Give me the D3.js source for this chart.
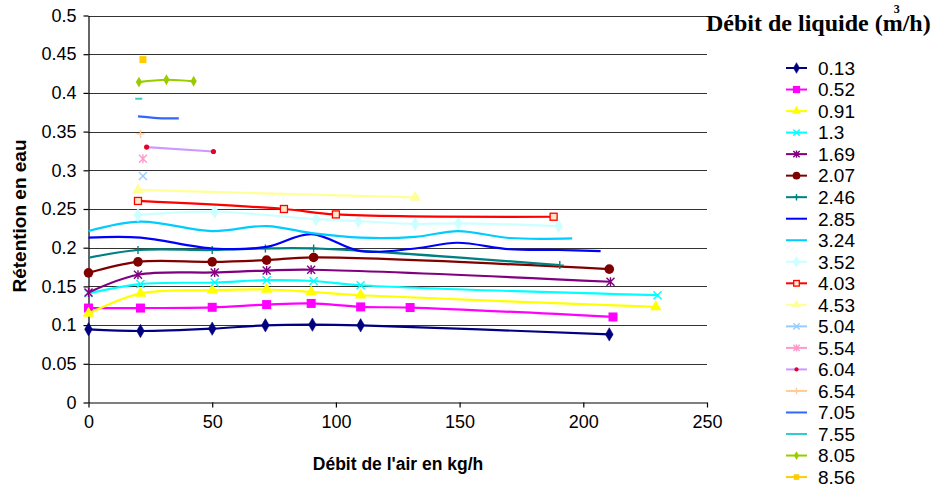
<!DOCTYPE html>
<html>
<head>
<meta charset="utf-8">
<script src="https://cdn.jsdelivr.net/npm/d3@7"></script>
<style>
  html, body { margin: 0; padding: 0; background: #fff; }
  svg { display: block; }
  text { fill: #000; }
</style>
</head>
<body>
<svg id="chart" width="933" height="489"></svg>
<script>
// ---------- DATA ----------
const liquidRates = ["0.13","0.52","0.91","1.3","1.69","2.07","2.46","2.85","3.24","3.52",
                     "4.03","4.53","5.04","5.54","6.04","6.54","7.05","7.55","8.05","8.56"];
const colors = ["#000080","#FF00FF","#FFFF00","#00FFFF","#800080","#800000","#008080","#0000FF",
                "#00CCFF","#CCFFFF","#FF0000","#FFFF99","#99CCFF","#FF99CC","#CC99FF","#FFCC99",
                "#3366FF","#33CCCC","#99CC00","#FFCC00"];
const markerTypes = ["diamond","square","triangle","cross","asterisk","circle","plus","none",
                     "none","diamond","openSquare","triangle","cross","asterisk","dot","plus",
                     "none","dash","smallDiamond","smallSquare"];

const s013 = [[0,0.0946],[21,0.0924],[50,0.0954],[71.5,0.0997],[90.5,0.1006],[110,0.0997],[210.5,0.088]];
const s052 = [[0,0.122],[21,0.122],[50,0.123],[72,0.1265],[90,0.128],[110,0.1235],[130,0.1227],[212,0.1105]];
const s091 = [[0,0.115],[21,0.141],[50,0.145],[72,0.146],[90,0.143],[110,0.1386],[229.3,0.1235]];
const s130 = [[0,0.141],[21,0.153],[51,0.155],[72,0.158],[91,0.157],[110,0.1515],[230,0.1386]];
const s169 = [[0,0.142],[20,0.165],[51,0.168],[72,0.1705],[90,0.1715],[211,0.156]];
const s207 = [[0,0.1675],[20,0.1817],[50,0.1817],[72,0.184],[91,0.1874],[210.5,0.1723]];
const s246 = [[0,0.187],[20,0.197],[50,0.197],[71.5,0.199],[91,0.199],[190.5,0.1775]];
const s285 = [[0,0.213],[21,0.213],[50,0.199],[72,0.201],[90,0.2176],[110,0.1956],[132,0.199],
              [149,0.2064],[170,0.198],[190,0.197],[207,0.1956]];
const s324 = [[0,0.2215],[21,0.2336],[50,0.2215],[72,0.228],[91,0.2185],[110,0.213],[132,0.214],
              [149.5,0.2215],[170,0.2125],[195.5,0.212]];
const s352 = [[20,0.2422],[51,0.2465],[92,0.2368],[109,0.2345],[132,0.2306],[149.5,0.2315],[190,0.228]];
const s403 = [[20,0.2604],[79,0.25],[100,0.243],[188,0.240]];
const s453 = [[20,0.2746],[132,0.265]];
const s504 = [[22,0.2927]];
const s554 = [[22,0.3148]];
const s604 = [[23.5,0.330],[50.5,0.3243]];
const s654 = [[21,0.347]];
const s705 = [[20,0.3696],[28,0.3675],[36.5,0.367]];
const s755 = [[20.3,0.3925]];
const s805 = [[20.4,0.414],[31.5,0.417],[42.5,0.415]];
const s856 = [[22,0.443]];
const seriesValues = [s013,s052,s091,s130,s169,s207,s246,s285,s324,s352,
                      s403,s453,s504,s554,s604,s654,s705,s755,s805,s856];

const yTicks = [0,0.05,0.1,0.15,0.2,0.25,0.3,0.35,0.4,0.45,0.5];
const xTicks = [0,50,100,150,200,250];
const xTitle = "Débit de l'air en kg/h";
const yTitle = "Rétention en eau";
const legendTitleMain = "Débit de liquide (m";
const legendTitleSup = "3";
const legendTitleEnd = "/h)";

// ---------- CHART ----------
const SANS = "'Liberation Sans', Arial, sans-serif";
const SERIF = "'Liberation Serif', 'Times New Roman', serif";
const svg = d3.select("#chart");
const x = d3.scaleLinear().domain([0,250]).range([88.5,707]);
const y = d3.scaleLinear().domain([0,0.5]).range([402.5,15.5]);

// gridlines
svg.append("g").selectAll("line").data(yTicks.filter(d => d > 0)).join("line")
  .attr("x1", x(0)).attr("x2", x(250))
  .attr("y1", d => Math.round(y(d)) + 0.5).attr("y2", d => Math.round(y(d)) + 0.5)
  .attr("stroke", "#333").attr("stroke-width", 1);

// axes
const fmt = d => String(+d.toFixed(2));
const gy = svg.append("g").attr("transform", `translate(${x(0)},0)`)
  .call(d3.axisLeft(y).tickValues(yTicks).tickFormat(fmt).tickSize(5).tickPadding(7).tickSizeOuter(0));
const gx = svg.append("g").attr("transform", `translate(0,${y(0)})`)
  .call(d3.axisBottom(x).tickValues(xTicks).tickFormat(fmt).tickSize(5).tickPadding(8).tickSizeOuter(0));
[gy, gx].forEach(g => {
  g.selectAll("path,line").attr("stroke", "#000").attr("stroke-width", 1.2);
  g.selectAll("text").style("font-size", "18px").style("font-family", SANS).attr("fill", "#000");
});

// axis titles
svg.append("text").attr("x", 398).attr("y", 470).attr("text-anchor", "middle")
  .style("font-family", SANS).style("font-size", "17.5px").style("font-weight", "bold").text(xTitle);
svg.append("text").attr("transform", "translate(26,216) rotate(-90)").attr("text-anchor", "middle")
  .style("font-family", SANS).style("font-size", "19px").style("font-weight", "bold").text(yTitle);

// marker drawing
function drawMarker(g, type, color, cx, cy, k) {
  k = k || 1;
  const s = 4 * k;
  switch (type) {
    case "diamond":
      g.append("path").attr("d", d3.symbol(d3.symbolDiamond, 52 * k * k)())
        .attr("transform", `translate(${cx},${cy})`).attr("fill", color).attr("stroke", color).attr("stroke-width", 0.5);
      break;
    case "smallDiamond":
      g.append("path").attr("d", d3.symbol(d3.symbolDiamond, 34 * k * k)())
        .attr("transform", `translate(${cx},${cy})`).attr("fill", color);
      break;
    case "square":
      g.append("rect").attr("x", cx - 4.5 * k).attr("y", cy - 4.5 * k).attr("width", 9 * k).attr("height", 9 * k).attr("fill", color);
      break;
    case "smallSquare":
      g.append("rect").attr("x", cx - 3.5 * k).attr("y", cy - 3.5 * k).attr("width", 7 * k).attr("height", 7 * k).attr("fill", color);
      break;
    case "openSquare":
      g.append("rect").attr("x", cx - 3.5 * k).attr("y", cy - 3.5 * k).attr("width", 7 * k).attr("height", 7 * k)
        .attr("fill", "#FFE8C8").attr("stroke", color).attr("stroke-width", 1.3);
      break;
    case "triangle":
      g.append("path").attr("d", d3.symbol(d3.symbolTriangle, 58 * k * k)())
        .attr("transform", `translate(${cx},${cy})`).attr("fill", color);
      break;
    case "circle":
      g.append("circle").attr("cx", cx).attr("cy", cy).attr("r", 4.8 * k).attr("fill", color);
      break;
    case "dot":
      g.append("circle").attr("cx", cx).attr("cy", cy).attr("r", 2.6 * k).attr("fill", "#E8002A");
      break;
    case "cross":
      g.append("path").attr("d", `M${cx-s},${cy-s}L${cx+s},${cy+s}M${cx-s},${cy+s}L${cx+s},${cy-s}`)
        .attr("stroke", color).attr("stroke-width", 1.4).attr("fill", "none");
      break;
    case "asterisk":
      g.append("path").attr("d", `M${cx-s},${cy-s}L${cx+s},${cy+s}M${cx-s},${cy+s}L${cx+s},${cy-s}M${cx},${cy-s-0.5}L${cx},${cy+s+0.5}`)
        .attr("stroke", color).attr("stroke-width", 1.4).attr("fill", "none");
      break;
    case "plus":
      g.append("path").attr("d", `M${cx-s},${cy}L${cx+s},${cy}M${cx},${cy-s}L${cx},${cy+s}`)
        .attr("stroke", color).attr("stroke-width", 1.4).attr("fill", "none");
      break;
    case "dash":
      g.append("path").attr("d", `M${cx-3.5*k},${cy}L${cx+3.5*k},${cy}`)
        .attr("stroke", color).attr("stroke-width", 2).attr("fill", "none");
      break;
  }
}

// series lines + markers
const line = d3.line().x(d => x(d[0])).y(d => y(d[1])).curve(d3.curveCatmullRom.alpha(0.5));
const plot = svg.append("g");
seriesValues.forEach((pts, i) => {
  const g = plot.append("g");
  if (pts.length > 1) {
    g.append("path").attr("d", line(pts)).attr("fill", "none")
      .attr("stroke", colors[i]).attr("stroke-width", 2.2);
  }
  pts.forEach(p => {
    if (markerTypes[i] === "none") return;
    if ((i === 6) && p[0] === 0) return;         // teal line starts without visible marker
    drawMarker(g, markerTypes[i], colors[i], x(p[0]), y(p[1]), 1);
  });
});

// legend title
const lt = svg.append("text").attr("x", 706).attr("y", 31)
  .style("font-family", SERIF).style("font-size", "24px").style("font-weight", "bold");
lt.append("tspan").text(legendTitleMain);
lt.append("tspan").style("font-size", "12px").attr("dx", -9).attr("dy", -18).text(legendTitleSup);
lt.append("tspan").attr("dx", 3).attr("dy", 18).text(legendTitleEnd);

// legend items
const leg = svg.append("g");
liquidRates.forEach((name, i) => {
  const cy = 68 + i * 21.53;
  leg.append("line").attr("x1", 786).attr("x2", 807).attr("y1", cy).attr("y2", cy)
    .attr("stroke", colors[i]).attr("stroke-width", 2);
  drawMarker(leg, markerTypes[i], colors[i], 796.5, cy, 0.8);
  leg.append("text").attr("x", 818).attr("y", cy).attr("dy", "0.36em")
    .style("font-family", SANS).style("font-size", "19px").text(name);
});
</script>
</body>
</html>
